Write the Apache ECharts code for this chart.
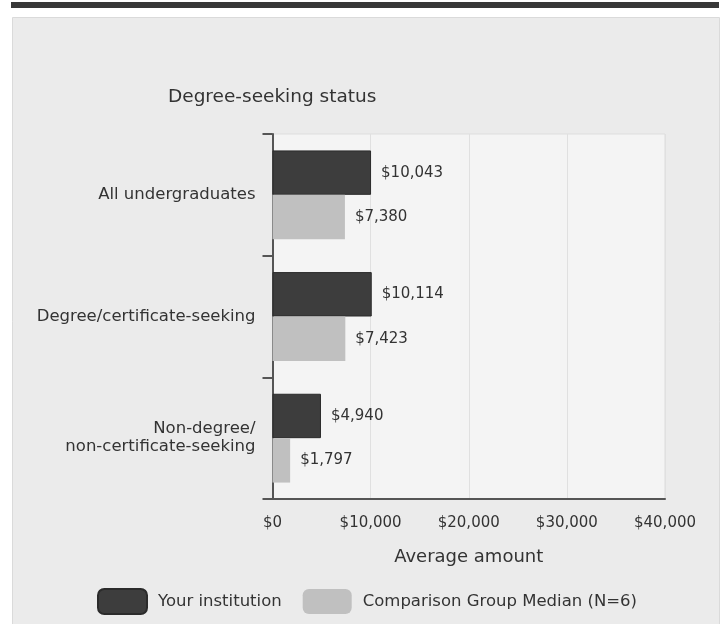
<!DOCTYPE html>
<html>
<head>
<meta charset="utf-8">
<script src="https://cdn.jsdelivr.net/npm/echarts@6/dist/echarts.min.js"></script>
<style>
html,body{margin:0;padding:0;background:#fff;}
#chart{width:725px;height:624px;}
</style>
</head>
<body>
<div id="chart"></div>
<script>
const categories = ['All undergraduates', 'Degree/certificate-seeking', 'Non-degree/\nnon-certificate-seeking'];
const seriesNames = ['Your institution', 'Comparison Group Median (N=6)'];
const yourInstitution = [10043, 10114, 4940];
const comparisonMedian = [7380, 7423, 1797];
const xTicks = { min: 0, max: 40000, interval: 10000 };
const titleText = 'Degree-seeking status';
const xAxisName = 'Average amount';

const FONT = "'DejaVu Sans', 'Liberation Sans', Arial, sans-serif";
const money = v => '$' + Number(v).toLocaleString('en-US');

const chart = echarts.init(document.getElementById('chart'));
chart.setOption({
  backgroundColor: '#ffffff',
  animation: false,
  textStyle: { fontFamily: FONT },
  graphic: [
    { type: 'rect', z: -10, shape: { x: 11, y: 2, width: 708, height: 6 },
      style: { fill: '#383838' } },
    { type: 'rect', z: -10, shape: { x: 12.5, y: 17.5, width: 707, height: 620 },
      style: { fill: '#ebebeb', stroke: '#dadada', lineWidth: 1 } }
  ],
  title: {
    text: titleText,
    left: 163, top: 83,
    textStyle: { fontFamily: FONT, fontSize: 18.5, fontWeight: 'normal', color: '#333' }
  },
  grid: {
    left: 272.5, top: 134, right: 60, bottom: 125,
    show: true, backgroundColor: '#f4f4f4', borderColor: '#dddddd', borderWidth: 1
  },
  legend: {
    data: seriesNames,
    left: 92, top: 583,
    itemWidth: 49, itemHeight: 25, itemGap: 21,
    icon: 'roundRect',
    textStyle: { fontFamily: FONT, fontSize: 16.5, color: '#333', padding: [0, 0, 0, 6] }
  },
  xAxis: {
    type: 'value',
    min: xTicks.min, max: xTicks.max, interval: xTicks.interval,
    name: xAxisName, nameLocation: 'middle', nameGap: 49,
    nameTextStyle: { fontFamily: FONT, fontSize: 18, color: '#333' },
    axisLine: { show: true, lineStyle: { color: '#555', width: 2 } },
    axisTick: { show: false },
    splitLine: { show: true, lineStyle: { color: '#e0e0e0', width: 1 } },
    axisLabel: { formatter: money, fontFamily: FONT, fontSize: 15, color: '#333', margin: 17 }
  },
  yAxis: {
    type: 'category',
    data: categories,
    inverse: true,
    axisLine: { show: true, lineStyle: { color: '#555', width: 2 } },
    axisTick: { show: true, length: 10, lineStyle: { color: '#555', width: 2 } },
    axisLabel: { fontFamily: FONT, fontSize: 16.5, color: '#333', margin: 17, lineHeight: 18, align: 'right' },
    splitLine: { show: false }
  },
  series: [
    {
      name: seriesNames[0], type: 'bar', data: yourInstitution,
      barGap: '0%', barCategoryGap: '27%',
      itemStyle: { color: '#3d3d3d', borderColor: '#2b2b2b', borderWidth: 1 },
      label: { show: true, position: 'right', distance: 10, formatter: p => money(p.value),
               fontFamily: FONT, fontSize: 15, color: '#333' }
    },
    {
      name: seriesNames[1], type: 'bar', data: comparisonMedian,
      barGap: '0%', barCategoryGap: '27%',
      itemStyle: { color: '#c0c0c0' },
      label: { show: true, position: 'right', distance: 10, formatter: p => money(p.value),
               fontFamily: FONT, fontSize: 15, color: '#333' }
    }
  ]
});
</script>
</body>
</html>
